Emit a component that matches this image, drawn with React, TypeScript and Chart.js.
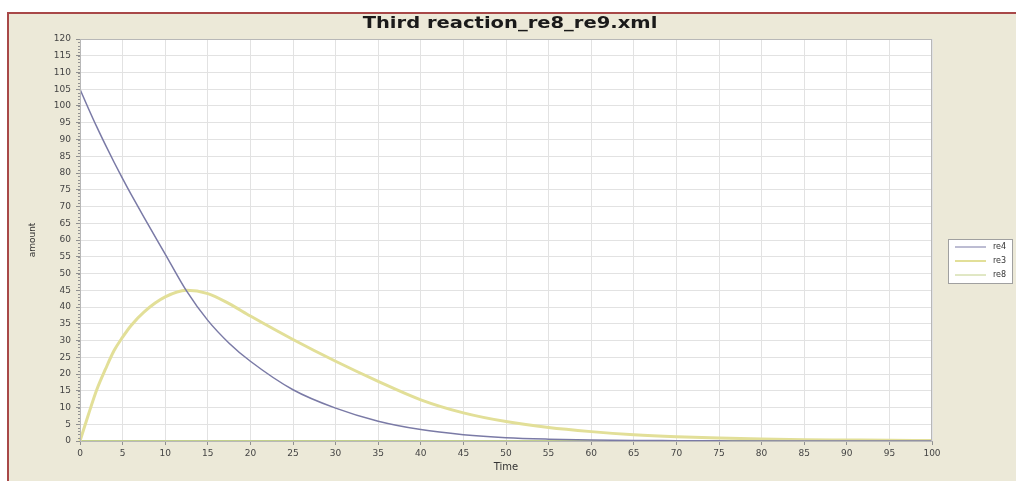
import React, { useEffect, useRef } from "react";
import { Chart, registerables } from "chart.js";

Chart.register(...registerables);

const chartTitle = "Third reaction_re8_re9.xml";
const xAxisLabel = "Time";
const yAxisLabel = "amount";
const seriesNames = ["re4", "re3", "re8"];
const seriesColors = ["#7a7aa6", "#e2df98", "#c2d08a"];
const seriesWidths = [1.5, 3, 2];

const time = [0, 1, 2, 3, 4, 5, 6, 7.5, 10, 12.5, 15, 17.5, 20, 25, 30, 35, 40, 45, 50, 55, 60, 65, 70, 75, 80, 85, 90, 95, 100];
const re4 = [105, 99.2, 93.6, 88.3, 83.2, 78.3, 73.6, 66.8, 55.8, 44.8, 36, 29.2, 23.8, 15.3, 9.8, 5.9, 3.4, 1.9, 1.0, 0.55, 0.3, 0.15, 0.1, 0.05, 0, 0, 0, 0, 0];
const re3 = [0, 8, 15.5, 21.5, 27, 31, 34.5, 38.5, 43, 45, 44, 41, 37.3, 30.3, 23.8, 17.8, 12.3, 8.4, 5.8, 4, 2.8, 1.9, 1.3, 0.9, 0.6, 0.4, 0.3, 0.2, 0.15];
const re8 = [0, 0, 0, 0, 0, 0, 0, 0, 0, 0, 0, 0, 0, 0, 0, 0, 0, 0, 0, 0, 0, 0, 0, 0, 0, 0, 0, 0, 0];

const xMin = 0;
const xMax = 100;
const xStep = 5;
const yMin = 0;
const yMax = 120;
const yStep = 5;

const FONT = "'DejaVu Sans', Verdana, sans-serif";

const framePlugin = {
  id: "frame",
  beforeDraw(chart: any) {
    const { ctx, width, height, chartArea } = chart;
    ctx.save();
    ctx.fillStyle = "#ffffff";
    ctx.fillRect(0, 0, width, height);
    ctx.fillStyle = "#ece9d8";
    ctx.fillRect(7, 12, width - 7, height - 12);
    ctx.strokeStyle = "#a84848";
    ctx.lineWidth = 2;
    ctx.beginPath();
    ctx.moveTo(8, height);
    ctx.lineTo(8, 13);
    ctx.lineTo(width, 13);
    ctx.stroke();
    ctx.fillStyle = "#ffffff";
    ctx.fillRect(chartArea.left, chartArea.top, chartArea.right - chartArea.left, chartArea.bottom - chartArea.top);
    ctx.restore();
  },
  afterDraw(chart: any) {
    const { ctx, chartArea, scales } = chart;
    ctx.save();
    ctx.strokeStyle = "#b8b8b8";
    ctx.lineWidth = 1;
    ctx.strokeRect(chartArea.left + 0.5, chartArea.top + 0.5, chartArea.right - chartArea.left - 1, chartArea.bottom - chartArea.top);
    const ys = scales.y;
    ctx.strokeStyle = "#909090";
    ctx.beginPath();
    for (let v = yMin; v <= yMax; v += 1) {
      const py = Math.round(ys.getPixelForValue(v)) + 0.5;
      ctx.moveTo(chartArea.left - 2, py);
      ctx.lineTo(chartArea.left, py);
    }
    ctx.stroke();
    // title (slightly wide lettering as in the reference)
    ctx.save();
    ctx.translate(510, 24);
    ctx.scale(1.22, 1);
    ctx.fillStyle = "#1a1a1a";
    ctx.font = `bold 16px ${FONT}`;
    ctx.textAlign = "center";
    ctx.textBaseline = "middle";
    ctx.fillText(chartTitle, 0, 0);
    ctx.restore();
    // legend
    const bx = 948, by = 239, bw = 64, bh = 44;
    ctx.fillStyle = "#ffffff";
    ctx.fillRect(bx, by, bw, bh);
    ctx.strokeStyle = "#a0a0a0";
    ctx.lineWidth = 1;
    ctx.strokeRect(bx + 0.5, by + 0.5, bw, bh);
    ctx.font = `8px ${FONT}`;
    ctx.textAlign = "left";
    ctx.textBaseline = "middle";
    chart.data.datasets.forEach((ds: any, i: number) => {
      const ly = by + 8 + i * 14;
      ctx.strokeStyle = ds.borderColor;
      ctx.lineWidth = Math.max(1, ds.borderWidth - 1);
      ctx.beginPath();
      ctx.moveTo(955, ly);
      ctx.lineTo(986, ly);
      ctx.stroke();
      ctx.fillStyle = "#333333";
      ctx.fillText(ds.label, 993, ly);
    });
    ctx.restore();
  },
};

export default function App() {
  const ref = useRef<HTMLCanvasElement | null>(null);
  useEffect(() => {
    if (!ref.current) return;
    const series = [re4, re3, re8];
    const chart = new Chart(ref.current, {
      type: "line",
      data: {
        datasets: series.map((vals, i) => ({
          label: seriesNames[i],
          data: time.map((t, j) => ({ x: t, y: vals[j] })),
          borderColor: seriesColors[i],
          backgroundColor: seriesColors[i],
          borderWidth: seriesWidths[i],
          pointRadius: 0,
          cubicInterpolationMode: "monotone" as const,
          fill: false,
          clip: 4,
        })),
      },
      options: {
        animation: false,
        responsive: false,
        devicePixelRatio: 1,
        layout: { padding: { left: 0, top: 39, right: 84, bottom: 0 } },
        plugins: {
          legend: { display: false },
          title: { display: false },
          tooltip: { enabled: false },
        },
        scales: {
          x: {
            type: "linear",
            min: xMin,
            max: xMax,
            afterFit: (s: any) => { s.height = 40; },
            ticks: { stepSize: xStep, color: "#444", font: { family: FONT, size: 9 }, padding: 3, maxRotation: 0, autoSkip: false },
            grid: { color: "#e2e2e2", tickColor: "#909090", tickLength: 4 },
            border: { color: "#a0a0a0" },
            title: { display: true, text: xAxisLabel, color: "#333", font: { family: FONT, size: 10 }, padding: { top: 0, bottom: 8 } },
          },
          y: {
            type: "linear",
            min: yMin,
            max: yMax,
            afterFit: (s: any) => { s.width = 80; },
            ticks: { stepSize: yStep, color: "#444", font: { family: FONT, size: 9 }, padding: 5, autoSkip: false },
            grid: { color: "#e2e2e2", tickColor: "#909090", tickLength: 4 },
            border: { color: "#a0a0a0" },
            title: { display: true, text: yAxisLabel, color: "#333", font: { family: FONT, size: 9 }, padding: { top: 27, bottom: 0 } },
          },
        },
      },
      plugins: [framePlugin],
    });
    return () => chart.destroy();
  }, []);
  return (
    <div style={{ position: "fixed", left: 0, top: 0, width: 1016, height: 481 }}>
      <canvas ref={ref} width={1016} height={481} style={{ display: "block", width: 1016, height: 481 }} />
    </div>
  );
}
